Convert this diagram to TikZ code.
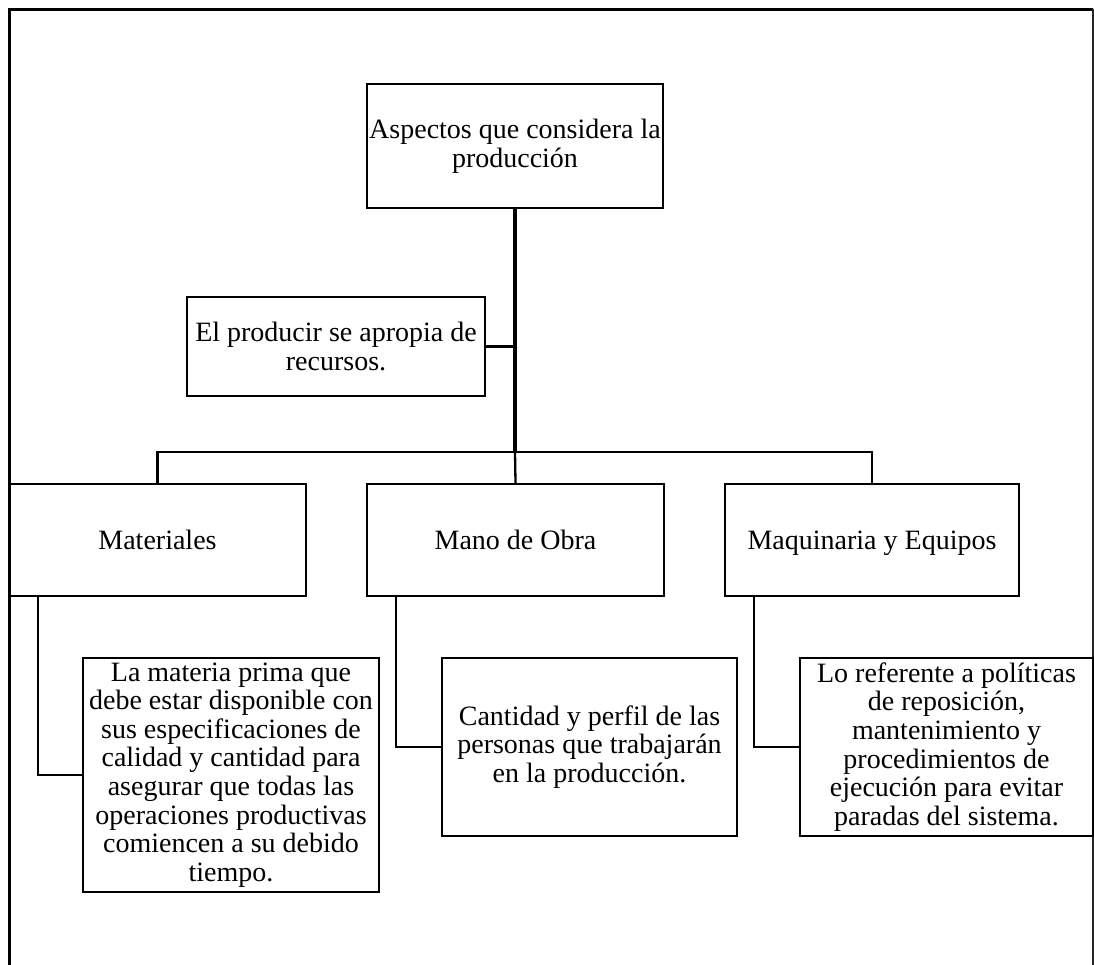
\documentclass[tikz,border=0pt]{standalone}
\usepackage{fontspec}
\setmainfont{Liberation Serif}
\begin{document}
\begin{tikzpicture}[x=1pt,y=-1pt,
  box/.style={draw=black,line width=2.3pt,inner sep=0pt,align=center,
    font=\fontsize{28}{28.6}\selectfont},
  oneline/.style={text height=19pt,text depth=0pt},
  link/.style={draw=black,line width=2.3pt},
  trunk/.style={draw=black,line width=4pt}]
\useasboundingbox (0,0) rectangle (1094,965);
% page border (open at the bottom)
\draw[line width=3pt] (9.5,965) -- (9.5,9.5) -- (1092.5,9.5);
\draw[line width=2pt,black!85] (1092.5,9.5) -- (1092.5,965);

% main boxes
\node[box,minimum width=296pt,minimum height=124pt] (top) at (515,146)
  {Aspectos que considera la\\producción};
\node[box,minimum width=298pt,minimum height=99pt] (prod) at (336,346.5)
  {El producir se apropia de\\recursos.};
\node[box,oneline,minimum width=297pt,minimum height=112pt] (mat) at (157.5,540) {Materiales};
\node[box,oneline,minimum width=297pt,minimum height=112pt] (mano) at (515.5,540) {Mano de Obra};
\node[box,oneline,minimum width=294pt,minimum height=112pt] (maq) at (872,540) {Maquinaria y Equipos};

% detail boxes
\node[box,minimum width=296pt,minimum height=234pt] (matd) at (231,775)
  {La materia prima que\\debe estar disponible con\\sus especificaciones de\\calidad y cantidad para\\asegurar que todas las\\operaciones productivas\\comiencen a su debido\\tiempo.};
\node[box,minimum width=295pt,minimum height=178pt] (manod) at (589.5,747)
  {Cantidad y perfil de las\\personas que trabajarán\\en la producción.};
\node[box,minimum width=293pt,minimum height=178pt] (maqd) at (946.5,747)
  {Lo referente a políticas\\de reposición,\\mantenimiento y\\procedimientos de\\ejecución para evitar\\paradas del sistema.};

% connectors
\coordinate (bar) at (515,452);
\draw[trunk] (top.south) -- (bar);
\draw[link] (prod.east) -- (prod.east -| top.south);
\draw[link] (mat.north) |- (bar) -| (maq.north);
\draw[link] (bar) -- (mano.north);
\draw[link] ([xshift=30pt]mat.south west) |- (matd.west);
\draw[link] ([xshift=30pt]mano.south west) |- (manod.west);
\draw[link] ([xshift=30pt]maq.south west) |- (maqd.west);
\end{tikzpicture}
\end{document}
